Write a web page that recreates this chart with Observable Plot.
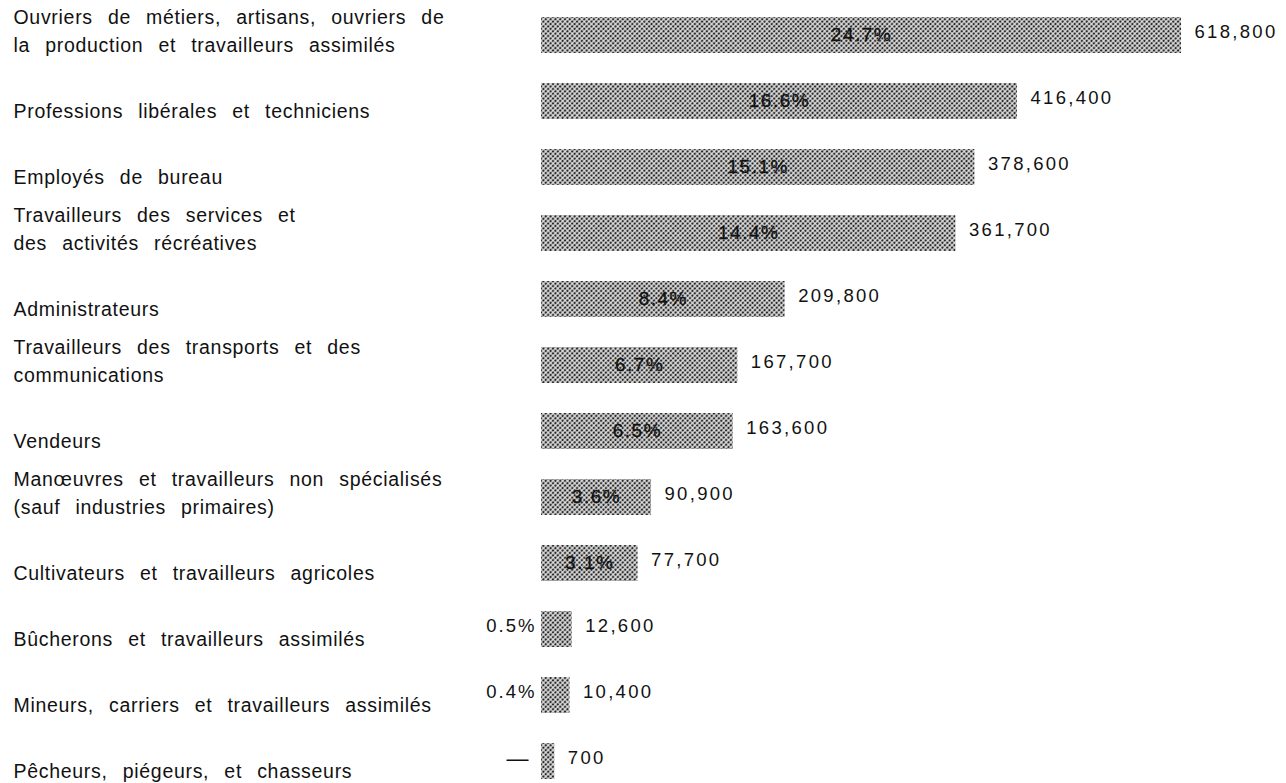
<!DOCTYPE html>
<html>
<head>
<meta charset="utf-8">
<script src="https://cdn.jsdelivr.net/npm/d3@7"></script>
<script src="https://cdn.jsdelivr.net/npm/@observablehq/plot@0.6"></script>
<style>
  body { margin: 0; background: #fff; }
  #chart svg { display: block; }
</style>
</head>
<body>
<div id="chart"></div>
<script>
// ---- data ----
const categories = [
  "Ouvriers de métiers, artisans, ouvriers de\nla production et travailleurs assimilés",
  "Professions libérales et techniciens",
  "Employés de bureau",
  "Travailleurs des services et\ndes activités récréatives",
  "Administrateurs",
  "Travailleurs des transports et des\ncommunications",
  "Vendeurs",
  "Manœuvres et travailleurs non spécialisés\n(sauf industries primaires)",
  "Cultivateurs et travailleurs agricoles",
  "Bûcherons et travailleurs assimilés",
  "Mineurs, carriers et travailleurs assimilés",
  "Pêcheurs, piégeurs, et chasseurs"
];
const workers = [618800, 416400, 378600, 361700, 209800, 167700, 163600, 90900, 77700, 12600, 10400, 700];
const percentLabels = ["24.7%", "16.6%", "15.1%", "14.4%", "8.4%", "6.7%", "6.5%", "3.6%", "3.1%", "0.5%", "0.4%", "—"];

const data = categories.map((c, i) => ({
  category: c,
  value: workers[i],
  pct: percentLabels[i],
  label: d3.format(",")(workers[i])
}));

// x scale (piecewise, like the hand-drawn original: small bars widened, largest compressed)
const xOptions = {
  type: "linear",
  domain: [0, 1000, 90000, 420000, 620000],
  range: [541, 560, 650, 1021, 1182]
};
const xs = Plot.scale({x: xOptions});
const mid = d => xs.invert((xs.apply(0) + xs.apply(d.value)) / 2);

const inside = d => d.value > 50000;
const FONT = "'Liberation Sans', Arial, Helvetica, sans-serif";

const chart = Plot.plot({
  width: 1286,
  height: 783,
  marginLeft: 541,
  marginRight: 104,
  marginTop: 16,
  marginBottom: 2,
  x: {...xOptions, axis: null},
  y: {type: "band", domain: categories, paddingInner: 0.45, paddingOuter: 0, axis: null},
  style: {fontFamily: FONT, background: "#fff", color: "#111"},
  marks: [
    Plot.barX(data, {x: "value", y: "category", fill: "url(#halftone)"}),
    // category labels (left)
    Plot.text(data, {
      y: "category", text: "category", frameAnchor: "left", textAnchor: "start",
      lineAnchor: "bottom", dx: -528, dy: 16, lineHeight: 1.4, fontSize: 19.5, fill: "#111"
    }),
    // percentages inside bars
    Plot.text(data.filter(inside), {
      x: mid, y: "category", text: "pct", fontSize: 19, fill: "#111",
      stroke: "#111", strokeWidth: 0.3, dy: -1
    }),
    // percentages left of small bars
    Plot.text(data.filter(d => !inside(d) && d.pct !== "—"), {
      x: () => 0, y: "category", text: "pct", textAnchor: "end", dx: -5, dy: -3, fontSize: 18.5, fill: "#111"
    }),
    Plot.text(data.filter(d => d.pct === "—"), {
      x: () => 0, y: "category", text: "pct", textAnchor: "end", dx: -13, dy: -3, fontSize: 22, fill: "#111"
    }),
    // absolute values
    Plot.text(data, {
      x: "value", y: "category", text: "label", textAnchor: "start", dx: 13, dy: -3, fontSize: 18.5, fill: "#111"
    })
  ]
});

// halftone pattern for the bars
const svg = d3.select(chart);
const defs = svg.insert("defs", ":first-child");
const pat = defs.append("pattern")
  .attr("id", "halftone")
  .attr("patternUnits", "userSpaceOnUse")
  .attr("width", 3.4).attr("height", 3.4)
  .attr("patternTransform", "rotate(45)");
pat.append("rect").attr("width", 3.4).attr("height", 3.4).attr("fill", "#dcdcdc");
pat.append("circle").attr("cx", 1.7).attr("cy", 1.7).attr("r", 1.18).attr("fill", "#2a2a2a");

// typographic spacing like the original typesetting
const groups = svg.selectAll(":scope > g[aria-label='text']").nodes();
const spacing = [
  {ls: "0.7px", ws: "9px"},
  {ls: "1.5px", ws: "0px"},
  {ls: "2px", ws: "0px"},
  {ls: "0px", ws: "0px"},
  {ls: "2.3px", ws: "0px"}
];
groups.forEach((g, i) => {
  if (spacing[i]) {
    g.style.letterSpacing = spacing[i].ls;
    g.style.wordSpacing = spacing[i].ws;
  }
});

document.getElementById("chart").appendChild(chart);
</script>
</body>
</html>
